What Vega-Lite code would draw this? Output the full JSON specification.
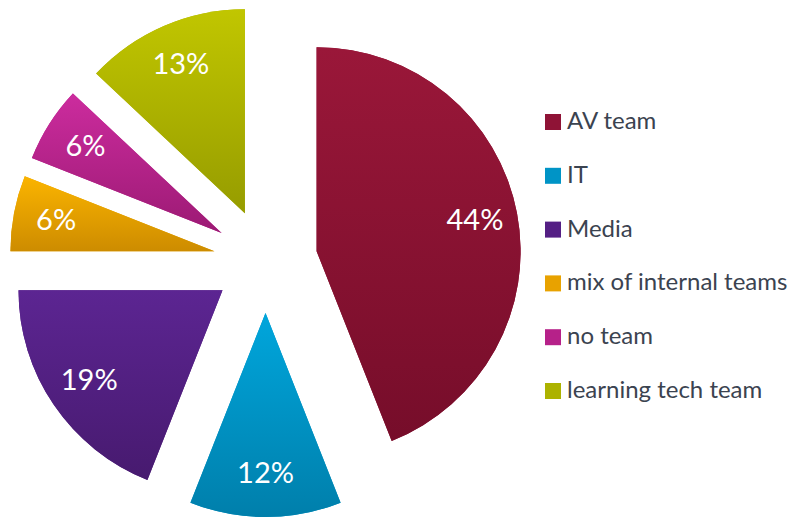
{
  "$schema": "https://vega.github.io/schema/vega-lite/v6.json",
  "width": 802,
  "height": 519,
  "autosize": {"type": "none"},
  "padding": 0,
  "background": "white",
  "config": {"view": {"stroke": null}, "font": "Lato"},
  "data": {
    "values": [
      {"team": "AV team", "pct": 0.44, "order": 1},
      {"team": "IT", "pct": 0.12, "order": 2},
      {"team": "Media", "pct": 0.19, "order": 3},
      {"team": "mix of internal teams", "pct": 0.06, "order": 4},
      {"team": "no team", "pct": 0.06, "order": 5},
      {"team": "learning tech team", "pct": 0.13, "order": 6}
    ]
  },
  "transform": [
    {"window": [{"op": "sum", "field": "pct", "as": "cum"}], "sort": [{"field": "order", "order": "ascending"}], "frame": [null, 0]},
    {"calculate": "datum.cum - datum.pct", "as": "start"},
    {"calculate": "2 * PI * (datum.cum - datum.pct / 2)", "as": "mid"},
    {"calculate": "sin(datum.mid)", "as": "ex"},
    {"calculate": "cos(datum.mid)", "as": "ey"},
    {"calculate": "4.1 * sin(datum.mid)", "as": "lx"},
    {"calculate": "4.1 * cos(datum.mid)", "as": "ly"}
  ],
  "layer": [
    {
      "mark": {"type": "arc", "radius": 204},
      "encoding": {
        "x": {"field": "ex", "type": "quantitative", "scale": {"domain": [-5.106, 10.317], "nice": false, "zero": false}, "axis": null},
        "y": {"field": "ey", "type": "quantitative", "scale": {"domain": [-4.962, 5.019], "nice": false, "zero": false}, "axis": null},
        "theta": {"field": "start", "type": "quantitative", "scale": {"domain": [0, 1], "nice": false}, "stack": null},
        "theta2": {"field": "cum"},
        "color": {
          "field": "team", "type": "nominal",
          "scale": {
            "domain": ["AV team", "IT", "Media", "mix of internal teams", "no team", "learning tech team"],
            "range": ["#8f1336", "#0094c6", "#541f84", "#e8a200", "#b62189", "#acb200"]
          },
          "legend": {
            "title": null,
            "orient": "none",
            "legendX": 541,
            "legendY": 110,
            "padding": 0,
            "symbolOffset": 0,
            "symbolType": "square",
            "symbolSize": 256,
            "symbolStrokeWidth": 0,
            "labelFontSize": 24,
            "labelFont": "Lato",
            "labelColor": "#3b4350",
            "labelOffset": 2,
            "rowPadding": 29.8,
            "labelLimit": 400
          }
        }
      }
    },
    {
      "mark": {"type": "arc", "radius": 204},
      "encoding": {
        "x": {"field": "ex", "type": "quantitative"},
        "y": {"field": "ey", "type": "quantitative"},
        "theta": {"field": "start", "type": "quantitative", "stack": null},
        "theta2": {"field": "cum"},
        "fill": {
          "condition": [
            {"test": "datum.team === 'AV team'", "value": {"gradient": "linear", "x1": 0, "y1": 0, "x2": 0, "y2": 1, "stops": [{"offset": 0, "color": "#9a1739"}, {"offset": 1, "color": "#760d2a"}]}},
            {"test": "datum.team === 'IT'", "value": {"gradient": "linear", "x1": 0, "y1": 0, "x2": 0, "y2": 1, "stops": [{"offset": 0, "color": "#00a6dc"}, {"offset": 1, "color": "#007fab"}]}},
            {"test": "datum.team === 'Media'", "value": {"gradient": "linear", "x1": 0, "y1": 0, "x2": 0, "y2": 1, "stops": [{"offset": 0, "color": "#5c2592"}, {"offset": 1, "color": "#471a6f"}]}},
            {"test": "datum.team === 'mix of internal teams'", "value": {"gradient": "linear", "x1": 0, "y1": 0, "x2": 0, "y2": 1, "stops": [{"offset": 0, "color": "#fbb400"}, {"offset": 1, "color": "#cd8c00"}]}},
            {"test": "datum.team === 'no team'", "value": {"gradient": "linear", "x1": 0, "y1": 0, "x2": 0, "y2": 1, "stops": [{"offset": 0, "color": "#cc2c9e"}, {"offset": 1, "color": "#9c1a74"}]}}
          ],
          "value": {"gradient": "linear", "x1": 0, "y1": 0, "x2": 0, "y2": 1, "stops": [{"offset": 0, "color": "#c1c600"}, {"offset": 1, "color": "#969c00"}]}
        }
      }
    },
    {
      "mark": {"type": "text", "fontSize": 29, "color": "white", "align": "center", "baseline": "middle", "font": "Lato"},
      "encoding": {
        "x": {"field": "lx", "type": "quantitative"},
        "y": {"field": "ly", "type": "quantitative"},
        "text": {"field": "pct", "type": "quantitative", "format": ".0%"}
      }
    }
  ]
}
